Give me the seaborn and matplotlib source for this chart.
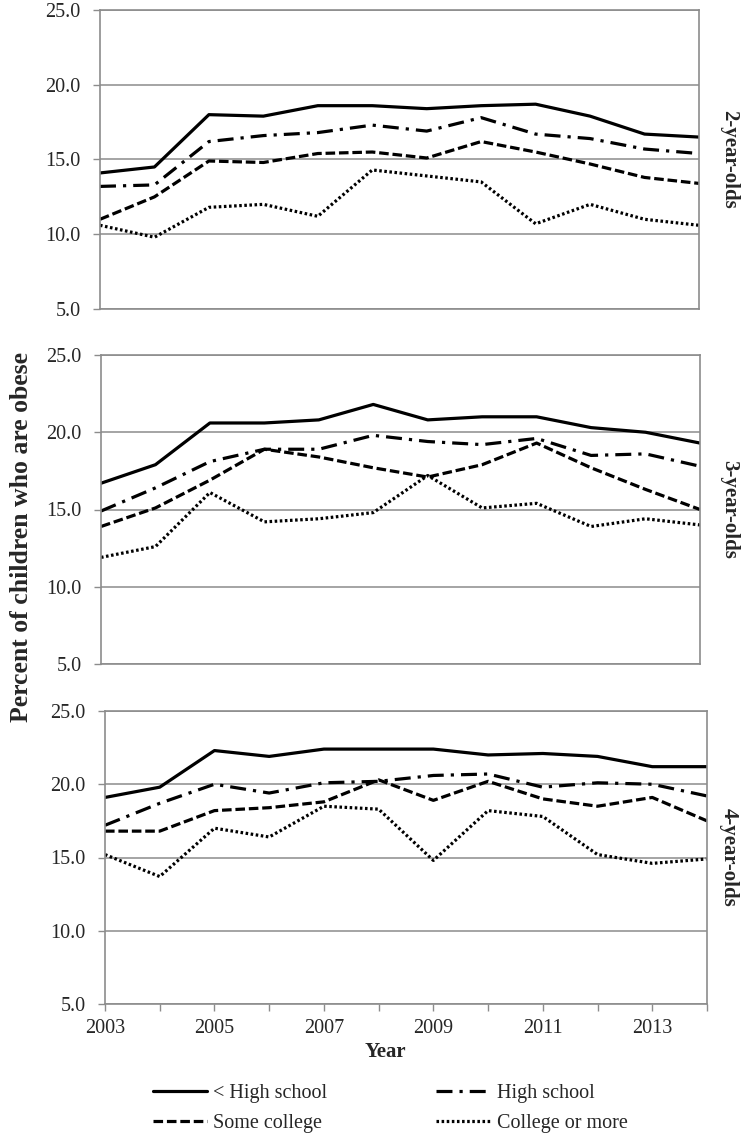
import matplotlib
matplotlib.use("Agg")
import matplotlib.pyplot as plt
import seaborn as sns
import pandas as pd

# data
years = list(range(2003, 2015))
groups = ["< High school", "High school", "Some college", "College or more"]
panels = ["2-year-olds", "3-year-olds", "4-year-olds"]

age2_less_hs = [14.1, 14.5, 18.0, 17.9, 18.6, 18.6, 18.4, 18.6, 18.7, 17.9, 16.7, 16.5]
age2_hs = [13.2, 13.3, 16.2, 16.6, 16.8, 17.3, 16.9, 17.8, 16.7, 16.4, 15.7, 15.4]
age2_some_col = [11.0, 12.5, 14.9, 14.8, 15.4, 15.5, 15.1, 16.2, 15.5, 14.7, 13.8, 13.4]
age2_col_more = [10.6, 9.8, 11.8, 12.0, 11.2, 14.3, 13.9, 13.5, 10.7, 12.0, 11.0, 10.6]

age3_less_hs = [16.7, 17.9, 20.6, 20.6, 20.8, 21.8, 20.8, 21.0, 21.0, 20.3, 20.0, 19.3]
age3_hs = [14.9, 16.4, 18.1, 18.9, 18.9, 19.8, 19.4, 19.2, 19.6, 18.5, 18.6, 17.8]
age3_some_col = [13.9, 15.1, 16.9, 18.9, 18.4, 17.7, 17.1, 17.9, 19.3, 17.7, 16.3, 15.0]
age3_col_more = [11.9, 12.6, 16.1, 14.2, 14.4, 14.8, 17.2, 15.1, 15.4, 13.9, 14.4, 14.0]

age4_less_hs = [19.1, 19.8, 22.3, 21.9, 22.4, 22.4, 22.4, 22.0, 22.1, 21.9, 21.2, 21.2]
age4_hs = [17.2, 18.7, 20.0, 19.4, 20.1, 20.2, 20.6, 20.7, 19.8, 20.1, 20.0, 19.2]
age4_some_col = [16.8, 16.8, 18.2, 18.4, 18.8, 20.3, 18.9, 20.2, 19.0, 18.5, 19.1, 17.5]
age4_col_more = [15.2, 13.7, 17.0, 16.4, 18.5, 18.3, 14.8, 18.2, 17.8, 15.2, 14.6, 14.9]

series = {
    "2-year-olds": [age2_less_hs, age2_hs, age2_some_col, age2_col_more],
    "3-year-olds": [age3_less_hs, age3_hs, age3_some_col, age3_col_more],
    "4-year-olds": [age4_less_hs, age4_hs, age4_some_col, age4_col_more],
}

rows = []
for panel in panels:
    for grp, vals in zip(groups, series[panel]):
        for yr, v in zip(years, vals):
            rows.append({"Age": panel, "Group": grp, "Year": yr, "Pct": v})
df = pd.DataFrame(rows)

styles = {
    "< High school": "-",
    "High school": (0, (5, 2.2, 1, 2.2)),
    "Some college": (0, (3, 1.2)),
    "College or more": (0, (0.8, 0.8)),
}

sns.set_style("white")
plt.rcParams["font.family"] = ["Liberation Serif", "DejaVu Serif"]

W, H = 742, 1135
fig = plt.figure(figsize=(W / 100, H / 100), dpi=100)

# axes boxes in pixels: left, top, right, bottom
boxes = [(100, 10, 699, 309), (101, 355, 700, 664), (105, 711, 707, 1004)]
grid_col = "#8c8c8c"
fs = 14.5

axes = []
for i, (panel, (l, t, r, b)) in enumerate(zip(panels, boxes)):
    ax = fig.add_axes([l / W, 1 - b / H, (r - l) / W, (b - t) / H])
    sub = df[df["Age"] == panel]
    for grp in groups:
        sns.lineplot(data=sub[sub["Group"] == grp], x="Year", y="Pct", ax=ax,
                     color="black", linewidth=2.3, linestyle=styles[grp],
                     label=grp, legend=False)
    ax.set_xlim(2003, 2014)
    ax.set_ylim(5, 25)
    ax.set_yticks([5, 10, 15, 20, 25])
    ax.set_yticklabels([f"{v:.1f}" for v in [5, 10, 15, 20, 25]], fontsize=fs)
    ax.yaxis.grid(True, color=grid_col, linewidth=1.1)
    ax.set_axisbelow(True)
    for s in ax.spines.values():
        s.set_color(grid_col)
        s.set_linewidth(1.2)
    ax.tick_params(axis="y", length=5, color=grid_col, width=1, pad=9, left=True)
    ax.set_xlabel("")
    ax.set_ylabel("")
    # age label on the right, read top to bottom
    fig.text(729 / W, 1 - (t + b) / 2 / H, panel, rotation=270,
             ha="center", va="center", fontsize=15, fontweight="bold")
    if i < 2:
        ax.set_xticks([])
    else:
        ax.set_xticks(years)
        ax.set_xticklabels([str(y) if y % 2 == 1 else "" for y in years], fontsize=fs)
        ax.tick_params(axis="x", length=5, color=grid_col, width=1, pad=6, bottom=True)
    axes.append(ax)

fig.text(385 / W, 1 - 1052 / H, "Year", ha="center", va="center",
         fontsize=15, fontweight="bold")
fig.text(22 / W, 1 - 537 / H, "Percent of children who are obese", rotation=90,
         ha="center", va="center", fontsize=18.5, fontweight="bold")

# legend: column-first order gives two rows of two
handles, labels = axes[-1].get_legend_handles_labels()
order = [0, 2, 1, 3]
fig.legend([handles[k] for k in order], [labels[k] for k in order],
           loc="upper left", bbox_to_anchor=(153 / W, 1 - 1084 / H), ncol=2,
           frameon=False, fontsize=fs, handlelength=2.7, handletextpad=0.3,
           columnspacing=5.4, labelspacing=0.55, borderpad=0, borderaxespad=0)

fig.savefig("out.png", dpi=100)
